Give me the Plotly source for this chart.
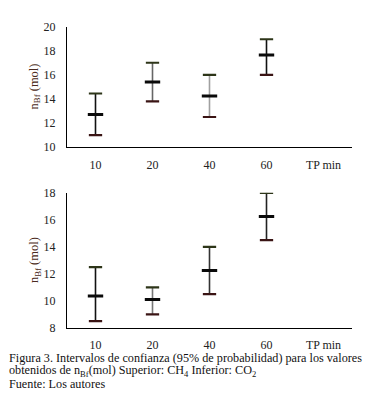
import plotly.graph_objects as go

categories = ["10", "20", "40", "60", "TP min"]
data_cats = ["10", "20", "40", "60"]

# Superior: CH4
ch4_mean = [12.7, 15.4, 14.25, 17.65]
ch4_high = [14.45, 17.0, 16.0, 18.95]
ch4_low = [11.0, 13.8, 12.5, 16.0]

# Inferior: CO2
co2_mean = [10.35, 10.1, 12.25, 16.25]
co2_high = [12.5, 11.0, 14.0, 18.0]
co2_low = [8.5, 9.0, 10.5, 14.5]

top_ticks = [10, 12, 14, 16, 18, 20]
bottom_ticks = [8, 10, 12, 14, 16, 18]

stem_colors_top = ["#111111", "#666666", "#a0a0a0", "#111111"]
stem_colors_bottom = ["#111111", "#777777", "#333333", "#222222"]

OFF = 8  # page body margin
W, H = 382 - 2 * OFF, 413 - 2 * OFF
SERIF = "Liberation Serif"


def px(xp):
    return (xp - OFF) / W


def py(yp):
    return 1 - (yp - OFF) / H


fig = go.Figure()


def add_panel(mean, high, low, stems, xa, ya):
    for i, cat in enumerate(data_cats):
        fig.add_trace(go.Scatter(
            x=[cat], y=[mean[i]], mode="markers", xaxis=xa, yaxis=ya,
            showlegend=False, hoverinfo="skip",
            marker=dict(symbol="line-ew", size=11, color="#000",
                        line=dict(width=3, color="#0a0a0a")),
            error_y=dict(type="data", symmetric=False,
                         array=[high[i] - mean[i]], arrayminus=[mean[i] - low[i]],
                         color=stems[i], thickness=1.6, width=0),
        ))
    fig.add_trace(go.Scatter(
        x=data_cats, y=high, mode="markers", xaxis=xa, yaxis=ya,
        showlegend=False, hoverinfo="skip",
        marker=dict(symbol="line-ew", size=9.5, color="#2d3518",
                    line=dict(width=2.2, color="#2d3518")),
    ))
    fig.add_trace(go.Scatter(
        x=data_cats, y=low, mode="markers", xaxis=xa, yaxis=ya,
        showlegend=False, hoverinfo="skip",
        marker=dict(symbol="line-ew", size=9.5, color="#3a1414",
                    line=dict(width=2.2, color="#3a1414")),
    ))


add_panel(ch4_mean, ch4_high, ch4_low, stem_colors_top, "x", "y")
add_panel(co2_mean, co2_high, co2_low, stem_colors_bottom, "x2", "y2")

x_dom = [px(67), px(352)]
top_dom = [py(145), py(20)]
bot_dom = [py(332.3), py(192.3)]

xcommon = dict(type="category", categoryorder="array", categoryarray=categories,
               range=[-0.5, 4.5], showgrid=False, zeroline=False, showline=True,
               linecolor="#000", linewidth=1, ticks="", ticklabelstandoff=6,
               tickfont=dict(family=SERIF, size=12, color="#222"), fixedrange=True)

fig.update_layout(
    width=W, height=H, margin=dict(l=0, r=0, t=0, b=0),
    paper_bgcolor="white", plot_bgcolor="white",
    xaxis=dict(domain=x_dom, anchor="y", **xcommon),
    xaxis2=dict(domain=x_dom, anchor="y2", **xcommon),
    yaxis=dict(domain=top_dom, anchor="x", range=[10, 20], tickvals=top_ticks,
               showgrid=False, zeroline=False, showline=True, linecolor="#000",
               linewidth=1, ticks="", ticklabelstandoff=8,
               tickfont=dict(family=SERIF, size=12, color="#222")),
    yaxis2=dict(domain=bot_dom, anchor="x2", range=[8, 18], tickvals=bottom_ticks,
                showgrid=False, zeroline=False, showline=True, linecolor="#000",
                linewidth=1, ticks="", ticklabelstandoff=8,
                tickfont=dict(family=SERIF, size=12, color="#222")),
)

ylab = "n<sub>Bf</sub> (mol)"
for yc in [82, 262]:
    fig.add_annotation(text=ylab, textangle=-90, x=px(35), y=py(yc), xref="paper",
                       yref="paper", showarrow=False, xanchor="center", yanchor="middle",
                       font=dict(family=SERIF, size=12.5, color="#4a2a20"))

caption = [
    "Figura 3. Intervalos de confianza (95% de probabilidad) para los valores",
    "obtenidos de n<sub>Bf</sub>(mol) Superior: CH<sub>4</sub> Inferior: CO<sub>2</sub>",
    "Fuente: Los autores",
]
cap_sizes = [12.2, 12.2, 12.2]
for line, yc, fs in zip(caption, [364, 377.5, 391], cap_sizes):
    fig.add_annotation(text=line, x=px(8), y=py(yc), xref="paper", yref="paper",
                       showarrow=False, xanchor="left", yanchor="middle", borderpad=0,
                       font=dict(family=SERIF, size=fs, color="#111"))

fig.write_html("out.html")
